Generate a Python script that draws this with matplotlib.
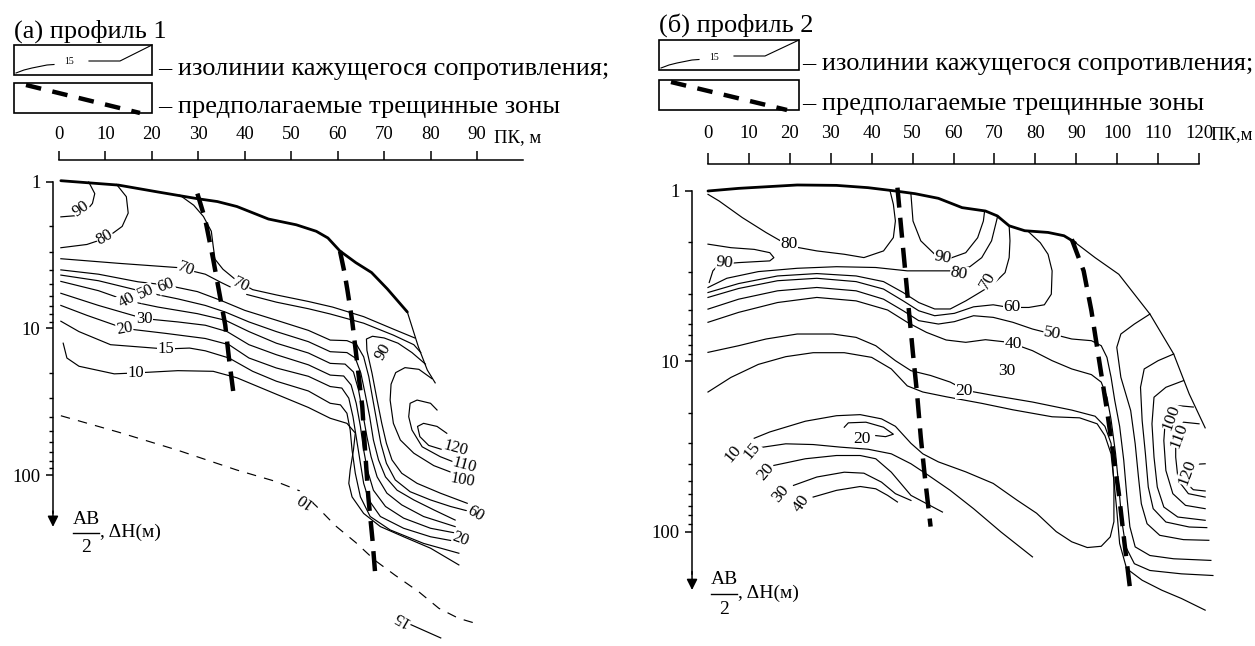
import matplotlib
matplotlib.use("Agg")
import matplotlib.pyplot as plt
from matplotlib.patches import Rectangle
from matplotlib.ticker import FixedLocator, FixedFormatter, NullFormatter, NullLocator

plt.rcParams["font.family"] = ["Liberation Serif", "DejaVu Serif"]

W, H = 1255, 646

# ---------------- shared axis values ----------------
depth_major = [1, 10, 100]
depth_major_labels = ["1", "10", "100"]
depth_minor = [2, 3, 4, 5, 6, 7, 8, 9, 20, 30, 40, 50, 60, 70, 80, 90]

# ====================== PROFILE 1 (а) ======================
a_pk_ticks = [0, 10, 20, 30, 40, 50, 60, 70, 80, 90]
a_pk_end = 100

a_surf_x = [0.4, 12.8, 21.3, 29.8, 34.1, 38.3, 45.1, 51.1, 55.4, 57.9, 60.5, 63.9, 67.3, 70.7, 75.0]
a_surf_d = [0.98, 1.05, 1.17, 1.30, 1.36, 1.47, 1.79, 1.96, 2.17, 2.41, 2.96, 3.55, 4.15, 5.37, 7.71]
a_edge_x = [75.0, 77.4, 79.3, 81.0]
a_edge_d = [7.71, 13.4, 19.2, 23.5]

a_frac1_x = [29.8, 31.5, 33.2, 34.5, 35.8, 36.6, 37.5]
a_frac1_d = [1.2, 1.81, 3.37, 5.66, 9.5, 16.0, 26.7]
a_frac2_x = [60.5, 61.5, 62.1, 63.1, 63.8, 65.3, 65.9, 66.6, 67.5, 68.1]
a_frac2_d = [2.96, 4.2, 5.46, 8.75, 13.4, 34, 67.5, 141, 277, 480]

a90_x = [6.4, 7.7, 7.2, 5.5, 3.4, 0.4]
a90_d = [1.0, 1.2, 1.40, 1.63, 1.70, 1.73]
a80_x = [12.4, 14.5, 14.9, 13.6, 10.2, 6.0, 0.4]
a80_d = [1.04, 1.26, 1.63, 2.01, 2.41, 2.67, 2.81]
a70_x = [0.4, 12.8, 25.6, 31.5, 34.9, 40.0, 46.8, 53.7, 58.4, 65.6, 72.0, 76.4, 77.9]
a70_d = [3.34, 3.59, 3.84, 4.26, 4.85, 5.81, 6.61, 7.33, 7.96, 9.2, 11.1, 12.9, 14.6]
a70b_x = [26.0, 29.0, 31.1, 32.8, 33.2, 33.6, 35.3, 38.3, 41.7, 46.8, 53.7, 58.9, 65.6, 72.0, 76.6]
a70b_d = [1.23, 1.44, 1.72, 2.17, 2.74, 3.37, 3.94, 4.72, 5.43, 5.90, 6.54, 7.14, 8.3, 10.1, 11.6]
a60_x = [0.4, 8.5, 17.0, 23.0, 29.8, 34.9, 40.0, 46.8, 53.7, 58.4, 62.0, 64.1, 65.6, 66.7, 67.6, 68.5, 69.3, 70.5, 72.4, 75.6, 80.0, 84.3, 88.6]
a60_d = [3.98, 4.26, 4.80, 5.05, 5.60, 6.44, 7.52, 8.78, 10.3, 12.0, 12.1, 12.9, 15.6, 21.3, 30.8, 44.4, 60.8, 83.2, 108, 130, 148, 164, 178]
a50_x = [0.4, 8.5, 18.7, 25.6, 31.5, 35.8, 40.9, 46.8, 53.7, 58.4, 62.0, 63.8, 65.0, 65.9, 66.9, 67.7, 68.8, 70.3, 72.8, 76.4, 80.7, 85.3]
a50_d = [4.32, 4.72, 5.66, 6.28, 6.96, 7.72, 9.02, 10.5, 12.3, 14.4, 14.6, 15.9, 20.2, 27.7, 40.0, 57.7, 78.9, 103, 127, 148, 173, 203]
a40_x = [0.4, 8.5, 14.5, 21.3, 29.8, 35.8, 40.9, 46.8, 53.7, 58.4, 61.6, 63.4, 64.5, 65.4, 66.3, 67.2, 68.5, 70.6, 73.8, 78.5, 85.3]
a40_d = [4.77, 5.52, 6.44, 7.14, 7.92, 8.78, 10.5, 12.6, 14.7, 17.3, 17.5, 19.8, 26.3, 37.9, 54.7, 75, 103, 133, 160, 192, 225]
a30_x = [0.4, 8.5, 18.3, 25.6, 31.5, 36.2, 40.9, 46.8, 53.7, 58.4, 61.3, 62.9, 64.0, 64.9, 65.6, 66.4, 67.7, 70.3, 74.2, 80.0, 85.7]
a30_d = [5.75, 6.96, 8.56, 9.02, 9.5, 10.5, 12.9, 15.1, 17.7, 20.8, 21.1, 24.3, 32.4, 46.6, 67.5, 92.4, 127, 164, 197, 231, 250]
a20_x = [0.4, 6.0, 14.1, 23.0, 31.5, 36.6, 40.9, 46.8, 53.7, 58.4, 60.9, 62.4, 63.3, 64.1, 64.9, 65.6, 66.7, 69.2, 74.2, 80.0, 85.7]
a20_d = [6.96, 8.13, 10.0, 10.8, 11.7, 12.9, 15.9, 18.6, 21.2, 24.9, 25.5, 29.9, 40.0, 57.7, 83.2, 114, 148, 192, 231, 264, 285]
a15_x = [0.4, 4.3, 11.1, 23.0, 28.1, 31.5, 36.6, 41.7, 46.8, 53.7, 58.4, 60.6, 62.0, 62.7, 63.1, 63.8, 64.9, 67.0, 71.3, 78.5, 86.1]
a15_d = [8.92, 10.5, 12.9, 13.8, 13.6, 14.2, 15.9, 19.6, 22.9, 26.7, 32.4, 33.2, 37.9, 49.3, 67.5, 97.3, 141, 192, 237, 293, 342]
a10_x = [0.9, 1.7, 4.3, 11.9, 16.6, 25.6, 33.2, 38.3, 46.8, 53.7, 58.4, 62.0, 63.8, 63.4, 62.7, 62.4, 63.1, 65.6, 69.2, 74.2, 80.0, 86.1]
a10_d = [12.6, 15.9, 18.1, 20.4, 20.1, 19.4, 19.6, 21.7, 28.1, 34.6, 41.0, 44.4, 51.7, 67.5, 92.4, 114, 141, 183, 225, 264, 316, 411]
a90r_x = [78.9, 76.0, 73.0, 70.0, 67.5, 66.2, 66.3, 67.4, 68.5, 69.5, 70.5, 71.7, 73.8, 77.1, 82.1, 87.9]
a90r_d = [17.5, 14.6, 12.6, 11.6, 11.3, 11.8, 14.1, 20.2, 30.8, 44.4, 60.8, 78.9, 97.3, 114, 133, 156]
a100_x = [80.3, 77.5, 74.5, 72.5, 71.5, 71.3, 72.0, 73.5, 76.4, 80.7, 85.0, 87.1]
a100_d = [22.0, 19.0, 18.5, 20.0, 24.0, 30.8, 44.4, 57.7, 71.0, 86.3, 97.3, 103]
a110_x = [81.4, 80.0, 77.1, 75.6, 75.3, 76.0, 78.2, 82.1, 85.7]
a110_d = [36.0, 32.4, 30.8, 32.4, 40.0, 49.3, 64.2, 75, 83.2]
a120_x = [83.5, 81.4, 78.5, 77.2, 77.7, 79.6, 82.8]
a120_d = [51.9, 46.6, 44.4, 46.6, 54.7, 62.8, 67.5]
a10dash_x = [0.4, 12.8, 25.6, 38.3, 46.8, 52.0, 55.4, 59.6, 63.9, 68.1, 72.4, 77.5, 81.8, 86.0, 90.7]
a10dash_d = [39.4, 51.0, 67.8, 92.5, 111, 129, 163, 223, 289, 384, 484, 628, 813, 950, 1052]
a15low_x = [75.8, 82.2]
a15low_d = [1052, 1295]

a_lab_text = ["90", "80", "70", "70", "60", "50", "40", "30", "20", "15", "10",
              "90", "120", "110", "100", "60", "20", "10", "15"]
a_lab_x = [4.7, 9.8, 27.3, 39.2, 23.0, 18.7, 14.5, 18.3, 14.1, 23.0, 16.6,
           69.9, 85.3, 87.3, 86.8, 89.6, 86.5, 52.8, 73.7]
a_lab_d = [1.54, 2.37, 3.94, 5.05, 5.05, 5.66, 6.44, 8.56, 10.0, 13.8, 20.1,
           14.4, 65.8, 85.4, 108, 183, 275, 147, 950]
a_lab_rot = [35, 30, -20, -25, 20, 25, 30, 0, 10, 0, 0,
             60, -15, -15, -10, -30, -20, 145, 150]

# ====================== PROFILE 2 (б) ======================
b_pk_ticks = [0, 10, 20, 30, 40, 50, 60, 70, 80, 90, 100, 110, 120]
b_pk_end = 120

b_surf_x = [0, 7.5, 21.8, 31.4, 39.1, 45.8, 50.6, 56.3, 62.1, 67.8, 70.7, 73.6, 77.4, 83.1, 87.0, 89.8]
b_surf_d = [1.0, 0.965, 0.922, 0.927, 0.956, 1.0, 1.037, 1.104, 1.252, 1.31, 1.40, 1.60, 1.71, 1.75, 1.83, 2.01]
b_edge_x = [89.8, 94.6, 100.4, 108.0, 113.8, 117.6, 121.5]
b_edge_d = [2.01, 2.46, 3.08, 5.27, 9.03, 15.5, 24.5]

b_frac1_x = [46.3, 47.2, 48.2, 49.1, 50.1, 51.1, 52.0, 53.0, 54.4]
b_frac1_d = [0.956, 1.64, 2.94, 5.04, 9.03, 15.5, 27.8, 47.5, 93]
b_frac2_x = [88.9, 91.8, 93.7, 95.6, 97.5, 98.9, 100.4, 101.8, 103.3]
b_frac2_d = [1.92, 2.94, 5.04, 9.89, 19.3, 33.1, 59.4, 117, 231]

b80top_x = [0, 2.7, 8.4, 14.2, 19.9, 26.6, 33.3, 38.1, 42.9, 45.3, 45.8, 45.3, 44.5]
b80top_d = [1.046, 1.144, 1.433, 1.753, 2.10, 2.246, 2.35, 2.458, 2.246, 1.876, 1.499, 1.197, 1.0]
b90lobe_x = [0, 5.6, 11.3, 15.1, 16.1, 15.1, 7.5, 2.7, 1.2, 0.3]
b90lobe_d = [2.05, 2.15, 2.20, 2.30, 2.46, 2.57, 2.63, 2.69, 2.94, 3.44]
b90mid_x = [49.6, 50.1, 52.0, 55.4, 59.2, 63.0, 65.9, 67.3, 67.6]
b90mid_d = [1.046, 1.50, 1.96, 2.35, 2.48, 2.30, 1.88, 1.50, 1.31]
b80_x = [0, 4.6, 12.3, 21.8, 31.4, 41.0, 48.7, 59.2, 64.0, 66.9, 69.3, 70.5, 70.8]
b80_d = [3.68, 3.25, 2.97, 2.84, 2.78, 2.81, 2.94, 2.94, 2.78, 2.46, 1.96, 1.50, 1.40]
b70_x = [0, 7.5, 17.0, 26.6, 36.2, 42.9, 47.7, 51.5, 55.4, 59.2, 63.0, 66.4, 69.7, 72.6, 73.6, 73.8, 73.6]
b70_d = [3.94, 3.49, 3.15, 3.05, 3.15, 3.40, 3.94, 4.51, 4.92, 4.92, 4.41, 3.94, 3.52, 3.01, 2.46, 1.96, 1.60]
b60_x = [0, 7.5, 17.0, 26.6, 36.2, 42.9, 47.7, 51.5, 55.4, 60.2, 64.9, 69.7, 73.6, 78.4, 82.2, 83.9, 84.1, 83.1, 81.2, 78.4]
b60_d = [4.21, 3.73, 3.36, 3.25, 3.40, 3.76, 4.41, 5.04, 5.39, 5.22, 4.78, 4.65, 4.82, 4.82, 4.65, 4.03, 2.94, 2.35, 2.01, 1.74]
b50_x = [0, 7.5, 17.0, 26.6, 36.2, 42.9, 47.7, 51.5, 56.3, 60.2, 64.9, 69.7, 74.5, 79.3, 84.1, 88.9, 93.7,
         96.1, 97.5, 98.5, 99.4, 100.6, 101.6, 102.3, 103.1, 104.4, 108.0, 113.8, 122.9]
b50_d = [4.93, 4.31, 3.85, 3.68, 3.85, 4.31, 5.04, 5.76, 6.03, 5.84, 5.39, 5.51, 5.89, 6.45, 6.90, 7.38, 7.55,
         8.08, 9.46, 12.35, 16.9, 24.0, 37.9, 59.4, 93.1, 122.3, 137.4, 143.6, 146.8]
b40_x = [0, 7.5, 17.0, 26.6, 36.2, 43.9, 48.7, 53.4, 58.2, 63.0, 67.8, 73.6, 79.3, 84.1, 88.9, 93.7,
         96.1, 97.5, 98.5, 99.6, 100.4, 101.1, 102.1, 104.2, 108.0, 115.7, 123.4]
b40_d = [5.89, 5.15, 4.51, 4.21, 4.41, 4.99, 5.89, 6.75, 7.48, 7.72, 7.45, 7.72, 8.64, 9.89, 11.06, 11.94,
         13.21, 16.17, 21.9, 34.6, 54.3, 85.1, 122.3, 153.5, 168.2, 176.0, 180.0]
b20_x = [0, 7.5, 14.2, 21.8, 30.5, 36.2, 41.0, 45.8, 49.6, 54.4, 59.2, 63.0, 69.7, 79.3, 88.9, 94.6,
         97.0, 98.5, 99.1, 99.9, 100.6, 102.3, 106.1, 110.9, 115.7, 121.5]
b20_d = [8.84, 8.08, 7.38, 6.90, 6.90, 7.22, 8.08, 9.89, 11.32, 12.08, 13.21, 14.78, 15.81, 17.29, 19.28, 20.94,
         24.0, 30.2, 47.5, 74.4, 116.9, 163.9, 191.9, 219.5, 245.5, 287.4]
b10_x = [11.3, 15.1, 23.8, 31.4, 37.2, 42.4, 45.8, 49.6, 52.5, 56.3, 63.0, 69.7, 75.5, 80.3, 85.1, 88.9, 92.7,
         96.1, 98.3, 99.2, 99.2, 98.5, 97.0, 95.1, 90.8, 84.1, 74.5, 66.9, 58.2, 52.5, 48.7, 44.8, 40.0,
         33.3, 25.7, 19.0, 12.3, 5.6, 0]
b10_d = [28.2, 25.9, 22.4, 20.8, 20.5, 21.7, 24.0, 30.2, 34.8, 38.8, 44.4, 51.9, 65.0, 77.6, 99.5, 114.2, 123.4,
         121.3, 106.9, 87.0, 49.8, 34.8, 27.2, 23.2, 21.4, 21.1, 19.2, 17.6, 16.1, 15.1, 13.9, 11.06, 9.46,
         8.88, 8.88, 9.37, 10.4, 12.4, 15.1]
b15_x = [12.3, 19.0, 25.7, 32.4, 39.1, 44.8, 49.6, 53.9, 59.2, 64.9, 71.6, 79.3]
b15_d = [32.1, 30.4, 30.7, 31.8, 32.7, 34.8, 39.8, 46.6, 57.0, 73.0, 100, 140]
b20loop_x = [33.3, 34.3, 38.6, 42.9, 45.3, 43.4, 41.0]
b20loop_d = [24.3, 22.9, 22.7, 24.3, 26.7, 27.6, 27.2]
b20low_x = [16.1, 23.8, 31.4, 37.2, 41.0, 44.8, 49.6, 57.3]
b20low_d = [40.7, 37.2, 35.6, 35.6, 37.2, 44.6, 61.0, 76.4]
b30low_x = [20.9, 26.6, 33.3, 38.1, 42.4, 45.8, 49.6]
b30low_d = [53.3, 47.6, 44.6, 45.2, 51.0, 59.6, 65.3]
b40low_x = [25.7, 31.4, 37.2, 41.0, 43.9, 46.3]
b40low_d = [62.4, 57.0, 54.1, 55.8, 61.0, 66.7]
bU2_x = [108.0, 104.2, 100.9, 99.9, 100.9, 103.3, 104.4, 105.2, 105.9, 107.3, 110.4, 116.2, 122.4]
bU2_d = [5.27, 6.03, 6.90, 8.26, 12.38, 19.4, 30.4, 47.6, 68.3, 89.4, 104.6, 110.9, 111.9]
bU3_x = [113.8, 110.0, 106.6, 105.7, 106.1, 106.9, 107.6, 108.8, 111.9, 117.6, 121.9]
bU3_d = [9.04, 9.89, 11.06, 14.17, 22.2, 34.8, 54.5, 73.0, 87.4, 93.5, 94.3]
bU4_x = [116.2, 111.9, 109.0, 108.5, 109.0, 109.8, 111.4, 114.8, 121.5]
bU4_d = [12.95, 14.17, 16.2, 23.2, 36.4, 54.5, 71.4, 81.7, 85.4]
b100_x = [118.6, 114.3, 111.9, 111.4, 111.9, 113.6, 116.7, 121.5]
b100_d = [18.5, 18.1, 19.8, 29.1, 43.6, 59.6, 69.8, 73.0]
b110_x = [120.0, 116.2, 114.3, 114.3, 114.9, 117.4, 121.5]
b110_d = [23.2, 22.7, 25.4, 36.4, 49.8, 59.6, 62.4]
b120_x = [121.5, 118.1, 116.7, 116.9, 118.6, 121.5]
b120_d = [39.8, 40.2, 44.6, 51.7, 56.5, 57.5]

b_lab_text = ["90", "80", "90", "80", "70", "60", "50", "40", "30", "20", "20",
              "10", "15", "20", "30", "40", "100", "110", "120"]
b_lab_x = [4.1, 19.7, 57.3, 61.3, 68.3, 74.3, 84.1, 74.5, 73.1, 62.5, 37.6,
           6.0, 10.8, 14.0, 17.8, 22.8, 113.3, 115.2, 117.1]
b_lab_d = [2.63, 2.05, 2.46, 3.05, 3.36, 4.82, 6.90, 7.90, 11.3, 14.8, 28.5,
           34.8, 33.3, 44.6, 59.6, 68.2, 21.2, 27.1, 44.6]
b_lab_rot = [-5, 0, -10, -10, 60, 0, -10, 0, 0, 0, 0,
             50, 50, 50, 50, 55, 70, 70, 70]

# ====================== FIGURE ======================
fig = plt.figure(figsize=(W / 100, H / 100), dpi=100)


def make_axes(px_left, px_right, xlim, ylim):
    ax = fig.add_axes([px_left / W, 0, (px_right - px_left) / W, 1])
    ax.set_xlim(*xlim)
    ax.set_yscale("log")
    ax.set_ylim(*ylim)
    ax.patch.set_visible(False)
    return ax


def style_axes(ax, axis_x, top_d, pk_ticks, pk_end, arrow_d, tick_len, tick_pad, pk_label, pk_label_x, pk_label_d):
    for s in ["right", "bottom"]:
        ax.spines[s].set_visible(False)
    ax.spines["left"].set_position(("data", axis_x))
    ax.spines["left"].set_bounds(1, arrow_d * 0.8)
    ax.spines["top"].set_position(("data", top_d))
    ax.spines["top"].set_bounds(0, pk_end)
    for s in ["left", "top"]:
        ax.spines[s].set_linewidth(1.1)
    ax.xaxis.set_ticks_position("top")
    ax.xaxis.set_major_locator(FixedLocator(pk_ticks))
    ax.xaxis.set_major_formatter(FixedFormatter([str(t) for t in pk_ticks]))
    ax.xaxis.set_minor_locator(NullLocator())
    ax.yaxis.set_ticks_position("left")
    ax.yaxis.set_major_locator(FixedLocator(depth_major))
    ax.yaxis.set_major_formatter(FixedFormatter(depth_major_labels))
    ax.yaxis.set_minor_locator(FixedLocator(depth_minor))
    ax.yaxis.set_minor_formatter(NullFormatter())
    ax.tick_params(axis="x", which="major", direction="out", length=tick_len, width=1.1,
                   pad=tick_pad, labelsize=13.5)
    ax.tick_params(axis="y", which="major", direction="out", length=5, width=1.1, pad=4, labelsize=13.5)
    ax.tick_params(axis="y", which="minor", direction="out", length=3, width=1.0)
    ax.annotate("", xy=(axis_x, arrow_d), xytext=(axis_x, arrow_d * 0.78),
                arrowprops=dict(arrowstyle="-|>", color="k", lw=1.1, mutation_scale=16,
                                shrinkA=0, shrinkB=0))
    ax.text(pk_label_x, pk_label_d, pk_label, fontsize=13.5, ha="left", va="center")


def draw_lines(ax, lines, lw=0.85, **kw):
    for x, d in lines:
        ax.plot(x, d, color="k", lw=lw, solid_joinstyle="round", **kw)


def draw_labels(ax, texts, xs, ds, rots, size):
    for t, x, d, r in zip(texts, xs, ds, rots):
        ax.text(x, d, t, fontsize=size, rotation=r, ha="center", va="center", zorder=6,
                bbox=dict(facecolor="white", edgecolor="none", pad=0.3))


# ---------- panel a ----------
axa = make_axes(0, 630, (-12.705, 122.95), (1469.6, 0.05725))
style_axes(axa, -1.3, 0.708, a_pk_ticks, a_pk_end, 226, 6.5, 6, "ПК, м", 93.7, 0.497)
axa.plot(a_surf_x, a_surf_d, color="k", lw=2.0, solid_capstyle="round")
draw_lines(axa, [(a_edge_x, a_edge_d), (a90_x, a90_d), (a80_x, a80_d), (a70_x, a70_d),
                 (a70b_x, a70b_d), (a60_x, a60_d), (a50_x, a50_d), (a40_x, a40_d),
                 (a30_x, a30_d), (a20_x, a20_d), (a15_x, a15_d), (a10_x, a10_d),
                 (a90r_x, a90r_d), (a100_x, a100_d), (a110_x, a110_d), (a120_x, a120_d),
                 (a15low_x, a15low_d)])
axa.plot(a10dash_x, a10dash_d, color="k", lw=0.85, dashes=(8, 7))
for fx, fd in [(a_frac1_x, a_frac1_d), (a_frac2_x, a_frac2_d)]:
    axa.plot(fx, fd, color="k", lw=3.2, dashes=(4.5, 2.3), solid_capstyle="butt", zorder=4)
draw_labels(axa, a_lab_text, a_lab_x, a_lab_d, a_lab_rot, 12)

# ---------- panel b ----------
axb = make_axes(630, 1255, (-19.06, 133.68), (466.4, 0.07581))
style_axes(axb, -3.9, 0.695, b_pk_ticks, b_pk_end, 219, 8, 8, "ПК,м", 122.9, 0.466)
axb.plot(b_surf_x, b_surf_d, color="k", lw=2.0, solid_capstyle="round")
draw_lines(axb, [(b_edge_x, b_edge_d), (b80top_x, b80top_d), (b90lobe_x, b90lobe_d),
                 (b90mid_x, b90mid_d), (b80_x, b80_d), (b70_x, b70_d), (b60_x, b60_d),
                 (b50_x, b50_d), (b40_x, b40_d), (b20_x, b20_d), (b10_x, b10_d),
                 (b15_x, b15_d), (b20loop_x, b20loop_d), (b20low_x, b20low_d),
                 (b30low_x, b30low_d), (b40low_x, b40low_d), (bU2_x, bU2_d),
                 (bU3_x, bU3_d), (bU4_x, bU4_d), (b100_x, b100_d), (b110_x, b110_d),
                 (b120_x, b120_d)])
for fx, fd in [(b_frac1_x, b_frac1_d), (b_frac2_x, b_frac2_d)]:
    axb.plot(fx, fd, color="k", lw=3.2, dashes=(4.5, 2.3), solid_capstyle="butt", zorder=4)
draw_labels(axb, b_lab_text, b_lab_x, b_lab_d, b_lab_rot, 12.5)

# ---------- overlay (titles, legends, axis captions) in pixel units ----------
ov = fig.add_axes([0, 0, 1, 1])
ov.set_xlim(0, W)
ov.set_ylim(H, 0)
ov.axis("off")

legend_iso = "– изолинии кажущегося сопротивления;"
legend_frac = "– предполагаемые трещинные зоны"
titles = ["(а) профиль 1", "(б) профиль 2"]


def legend_block(x0, title_y, box1_y, box2_y, box_w, box_h, text_x, title):
    ov.text(x0, title_y, title, fontsize=19, ha="left", va="baseline")
    ov.add_patch(Rectangle((x0, box1_y), box_w, box_h, fill=False, lw=1.2, ec="k"))
    ov.add_patch(Rectangle((x0, box2_y), box_w, box_h, fill=False, lw=1.2, ec="k"))
    # sample isoline
    ov.plot([x0 + 2, x0 + 10, x0 + 18, x0 + 33, x0 + 40],
            [box1_y + 28, box1_y + 25, box1_y + 23, box1_y + 20, box1_y + 19.5], color="k", lw=0.8)
    ov.text(x0 + 55, box1_y + 17, "15", fontsize=7, ha="center", va="center")
    ov.plot([x0 + 75, x0 + 106, x0 + box_w], [box1_y + 16, box1_y + 16, box1_y], color="k", lw=0.8)
    # sample fracture zone
    ov.plot([x0 + 12, x0 + box_w - 12], [box2_y + 2, box2_y + box_h], color="k", lw=3.2,
            dashes=(3.5, 2.6), solid_capstyle="butt")
    ov.text(text_x, box1_y + box_h, legend_iso, fontsize=19, ha="left", va="baseline")
    ov.text(text_x, box2_y + box_h, legend_frac, fontsize=19, ha="left", va="baseline")


legend_block(14, 38, 45, 83, 138, 30, 158, titles[0])
legend_block(659, 32, 40, 80, 140, 30, 802, titles[1])


def depth_caption(cx, ab_y, bar_y, two_y, text_x, text_y):
    ov.text(cx, ab_y, "AB", fontsize=14, ha="center", va="center")
    ov.plot([cx - 13, cx + 13], [bar_y, bar_y], color="k", lw=1.0)
    ov.text(cx, two_y, "2", fontsize=14, ha="center", va="center")
    ov.text(text_x, text_y, ", ΔH(м)", fontsize=14, ha="left", va="center")


depth_caption(86, 519, 533, 547, 100, 532)
depth_caption(724, 580, 594, 609, 738, 593)

fig.savefig("out.png", dpi=100)
